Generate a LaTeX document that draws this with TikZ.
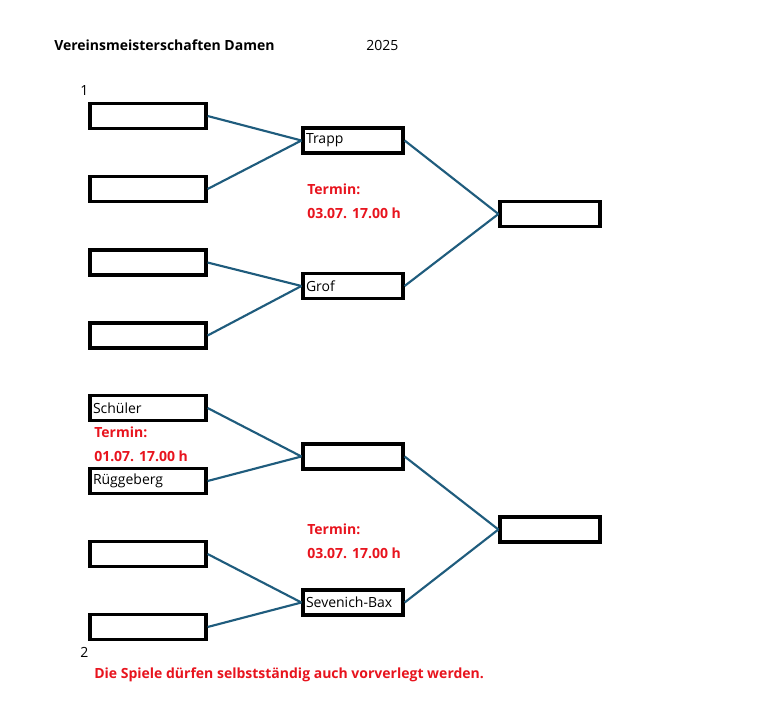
\documentclass[tikz,border=0pt]{standalone}
\usepackage{fontspec}
\setmainfont{Open Sans}
\definecolor{linecol}{RGB}{31,92,125}
\definecolor{redtxt}{RGB}{232,20,30}
\begin{document}
\begin{tikzpicture}[x=0.75pt,y=-0.75pt,
  box/.style={draw=black,line width=2.4pt,minimum height=25*0.75pt,inner sep=0pt,font=\fontsize{10.5}{12}\selectfont},
  lbox/.style={box,minimum width=116*0.75pt,text width=110*0.75pt,align=left},
  mbox/.style={box,minimum width=100*0.75pt,text width=94*0.75pt,align=left},
  conn/.style={draw=linecol,line width=1.6pt},
  txt/.style={anchor=west,inner sep=0pt,font=\fontsize{10.5}{12}\selectfont},
  redt/.style={txt,text=redtxt,font=\fontsize{10.5}{12}\selectfont\bfseries}]
\useasboundingbox (0,0) rectangle (764,710);
\fill[white] (0,0) rectangle (764,710);
% title
\node[txt,font=\fontsize{10.5}{12}\selectfont\bfseries] (title) at (54,45) {Vereinsmeisterschaften Damen};
\node[txt] (year) at (366,45) {2025};
\node[txt] (n1) at (80,91) {1};
\node[txt] (n2) at (80,652) {2};
% left column
\node[lbox] (a1) at (148,116) {};
\node[lbox] (a2) at (148,189) {};
\node[lbox] (a3) at (148,262.5) {};
\node[lbox] (a4) at (148,335.5) {};
\node[lbox] (a5) at (148,408) {Schüler};
\node[lbox] (a6) at (148,481) {Rüggeberg};
\node[lbox] (a7) at (148,554) {};
\node[lbox] (a8) at (148,627) {};
% middle column
\node[mbox] (b1) at (353,140.5) {Trapp};
\node[mbox] (b2) at (353,286) {Grof};
\node[mbox] (b3) at (353,456.5) {};
\node[mbox] (b4) at (353,602.5) {Sevenich-Bax};
% right column
\node[mbox] (c1) at (550,214) {};
\node[mbox] (c2) at (550,529.5) {};
% connectors
\draw[conn] (a1.east) -- (b1.west);
\draw[conn] (a2.east) -- (b1.west);
\draw[conn] (a3.east) -- (b2.west);
\draw[conn] (a4.east) -- (b2.west);
\draw[conn] (a5.east) -- (b3.west);
\draw[conn] (a6.east) -- (b3.west);
\draw[conn] (a7.east) -- (b4.west);
\draw[conn] (a8.east) -- (b4.west);
\draw[conn] (b1.east) -- (c1.west);
\draw[conn] (b2.east) -- (c1.west);
\draw[conn] (b3.east) -- (c2.west);
\draw[conn] (b4.east) -- (c2.west);
% red notes
\node[redt] (t1) at (307,189) {Termin:};
\node[redt] (d1) at (307,213) {03.07. 17.00 h};
\node[redt] (t2) at (94,432) {Termin:};
\node[redt] (d2) at (94,456) {01.07. 17.00 h};
\node[redt] (t3) at (307,529) {Termin:};
\node[redt] (d3) at (307,553) {03.07. 17.00 h};
\node[redt] (note) at (94,675) {Die Spiele dürfen selbstständig auch vorverlegt werden.};
\end{tikzpicture}
\end{document}
